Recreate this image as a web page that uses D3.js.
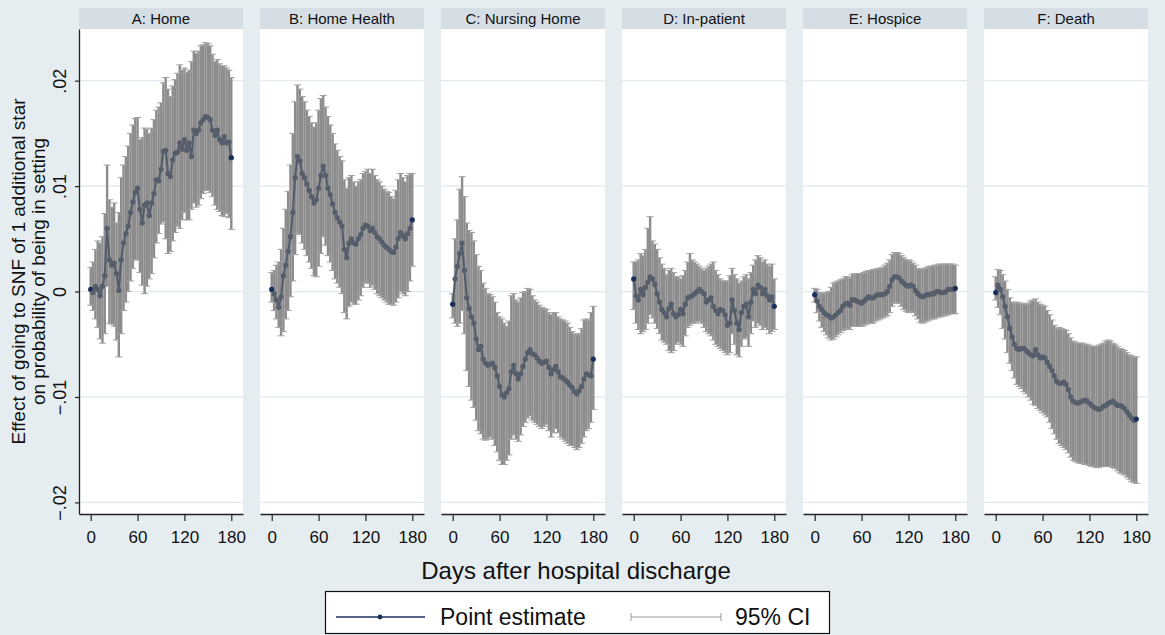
<!DOCTYPE html>
<html>
<head>
<meta charset="utf-8">
<script src="https://cdn.jsdelivr.net/npm/d3@7"></script>
<style>
  body { margin: 0; background: #e7eef1; }
  svg { display: block; font-family: "Liberation Sans", Arial, sans-serif; }
</style>
</head>
<body>
<div id="chart"></div>
<script>
// panel titles and shared x values (days after discharge)
const panelTitles = ["A: Home", "B: Home Health", "C: Nursing Home", "D: In-patient", "E: Hospice", "F: Death"];
const days = [0, 3, 6, 9, 12, 15, 18, 21, 24, 27, 30, 33, 36, 39, 42, 45, 48, 51, 54, 57, 60,
  63, 66, 69, 72, 75, 78, 81, 84, 87, 90, 93, 96, 99, 102, 105, 108, 111, 114, 117, 120,
  123, 126, 129, 132, 135, 138, 141, 144, 147, 150, 153, 156, 159, 162, 165, 168, 171, 174, 177, 180];
const xTicks = [0, 60, 120, 180];
const yTicks = [-0.02, -0.01, 0, 0.01, 0.02];

// A: Home
const homeEst = [0.0002, -0.0001, 0.0005, 0.0002, -0.0004, 0.0005, 0.0015, 0.0060, 0.0030, 0.0025,
  0.0027, 0.0017, 0.0001, 0.0030, 0.0046, 0.0055, 0.0062, 0.0075, 0.0085, 0.0094,
  0.0098, 0.0078, 0.0065, 0.0082, 0.0084, 0.0072, 0.0084, 0.0093, 0.0106, 0.0105,
  0.0116, 0.0133, 0.0134, 0.0112, 0.0109, 0.0125, 0.0131, 0.0132, 0.0141, 0.0135,
  0.0144, 0.0134, 0.0141, 0.0128, 0.0153, 0.0150, 0.0153, 0.0160, 0.0163, 0.0166,
  0.0165, 0.0163, 0.0153, 0.0148, 0.0153, 0.0144, 0.0141, 0.0147, 0.0141, 0.0142, 0.0127];
const homeHi = [0.0023, 0.0028, 0.0040, 0.0048, 0.0046, 0.0052, 0.0074, 0.0120, 0.0087, 0.0080,
  0.0084, 0.0065, 0.0075, 0.0108, 0.0120, 0.0128, 0.0138, 0.0150, 0.0158, 0.0164,
  0.0165, 0.0144, 0.0146, 0.0155, 0.0154, 0.0150, 0.0155, 0.0163, 0.0172, 0.0175,
  0.0179, 0.0198, 0.0203, 0.0192, 0.0185, 0.0195, 0.0201, 0.0207, 0.0215, 0.0210,
  0.0212, 0.0208, 0.0210, 0.0218, 0.0228, 0.0226, 0.0228, 0.0233, 0.0234, 0.0236,
  0.0235, 0.0233, 0.0225, 0.0218, 0.0220, 0.0216, 0.0214, 0.0214, 0.0212, 0.0210, 0.0203];
const homeLo = [-0.0013, -0.0018, -0.0026, -0.0034, -0.0045, -0.0049, -0.0040, 0.0005, -0.0030, -0.0031,
  -0.0033, -0.0046, -0.0062, -0.0040, -0.0018, -0.0010, 0.0000, 0.0010, 0.0022, 0.0030,
  0.0030, 0.0018, 0.0006, -0.0002, 0.0005, 0.0012, 0.0017, 0.0032, 0.0046, 0.0055,
  0.0064, 0.0066, 0.0050, 0.0036, 0.0038, 0.0048, 0.0056, 0.0062, 0.0060, 0.0068,
  0.0075, 0.0068, 0.0068, 0.0078, 0.0084, 0.0080, 0.0082, 0.0088, 0.0093, 0.0096,
  0.0096, 0.0094, 0.0090, 0.0082, 0.0078, 0.0076, 0.0072, 0.0071, 0.0074, 0.0070, 0.0059];

// B: Home Health
const hhEst = [0.0002, -0.0002, -0.0008, -0.0015, -0.0005, 0.0015, 0.0025, 0.0038, 0.0052, 0.0075,
  0.0108, 0.0128, 0.0124, 0.0112, 0.0108, 0.0102, 0.0096, 0.0090, 0.0084, 0.0087,
  0.0098, 0.0110, 0.0119, 0.0110, 0.0098, 0.0092, 0.0083, 0.0075, 0.0070, 0.0066,
  0.0062, 0.0040, 0.0032, 0.0046, 0.0050, 0.0046, 0.0045, 0.0050, 0.0054, 0.0060,
  0.0063, 0.0062, 0.0058, 0.0060, 0.0056, 0.0052, 0.0050, 0.0047, 0.0044, 0.0042,
  0.0040, 0.0038, 0.0037, 0.0042, 0.0050, 0.0056, 0.0053, 0.0050, 0.0055, 0.0060, 0.0068];
const hhHi = [0.0018, 0.0020, 0.0025, 0.0028, 0.0040, 0.0060, 0.0078, 0.0095, 0.0120, 0.0150,
  0.0180, 0.0196, 0.0192, 0.0185, 0.0180, 0.0172, 0.0166, 0.0160, 0.0156, 0.0160,
  0.0172, 0.0183, 0.0186, 0.0175, 0.0166, 0.0158, 0.0150, 0.0140, 0.0134, 0.0128,
  0.0124, 0.0106, 0.0098, 0.0108, 0.0110, 0.0104, 0.0100, 0.0104, 0.0106, 0.0112,
  0.0114, 0.0116, 0.0112, 0.0116, 0.0110, 0.0106, 0.0104, 0.0100, 0.0097, 0.0095,
  0.0094, 0.0090, 0.0088, 0.0096, 0.0106, 0.0112, 0.0108, 0.0104, 0.0110, 0.0112, 0.0112];
const hhLo = [-0.0010, -0.0018, -0.0026, -0.0034, -0.0042, -0.0038, -0.0026, -0.0018, -0.0005, 0.0010,
  0.0035, 0.0055, 0.0054, 0.0046, 0.0040, 0.0034, 0.0028, 0.0022, 0.0015, 0.0014,
  0.0024, 0.0036, 0.0052, 0.0044, 0.0034, 0.0028, 0.0020, 0.0012, 0.0008, 0.0004,
  -0.0002, -0.0020, -0.0026, -0.0014, -0.0010, -0.0012, -0.0012, -0.0008, -0.0004, 0.0004,
  0.0008, 0.0008, 0.0004, 0.0006, 0.0002, -0.0002, -0.0004, -0.0006, -0.0008, -0.0010,
  -0.0012, -0.0012, -0.0013, -0.0010, -0.0006, 0.0000, -0.0002, -0.0004, 0.0000, 0.0010, 0.0024];

// C: Nursing Home
const nhEst = [-0.0012, 0.0012, 0.0024, 0.0036, 0.0046, 0.0020, -0.0006, -0.0016, -0.0024, -0.0030,
  -0.0045, -0.0055, -0.0052, -0.0064, -0.0068, -0.0070, -0.0069, -0.0068, -0.0072, -0.0080,
  -0.0090, -0.0098, -0.0100, -0.0096, -0.0092, -0.0076, -0.0070, -0.0078, -0.0083, -0.0078,
  -0.0071, -0.0064, -0.0058, -0.0055, -0.0059, -0.0060, -0.0063, -0.0066, -0.0068, -0.0067,
  -0.0066, -0.0072, -0.0078, -0.0074, -0.0071, -0.0076, -0.0081, -0.0082, -0.0084, -0.0086,
  -0.0089, -0.0091, -0.0095, -0.0097, -0.0094, -0.0090, -0.0083, -0.0078, -0.0079, -0.0080, -0.0064];
const nhHi = [-0.0002, 0.0050, 0.0068, 0.0097, 0.0109, 0.0090, 0.0065, 0.0058, 0.0056, 0.0048,
  0.0035, 0.0024, 0.0020, 0.0008, 0.0003, -0.0002, -0.0003, -0.0005, -0.0010, -0.0020,
  -0.0024, -0.0026, -0.0030, -0.0033, -0.0028, -0.0004, -0.0002, -0.0008, -0.0010, -0.0006,
  -0.0001, 0.0000, 0.0003, 0.0002, -0.0004, -0.0008, -0.0010, -0.0013, -0.0015, -0.0016,
  -0.0017, -0.0020, -0.0022, -0.0020, -0.0020, -0.0024, -0.0026, -0.0027, -0.0028, -0.0030,
  -0.0034, -0.0038, -0.0040, -0.0041, -0.0040, -0.0035, -0.0027, -0.0026, -0.0027, -0.0020, -0.0014];
const nhLo = [-0.0025, -0.0030, -0.0033, -0.0030, -0.0018, -0.0040, -0.0075, -0.0090, -0.0103, -0.0110,
  -0.0122, -0.0132, -0.0135, -0.0140, -0.0141, -0.0140, -0.0138, -0.0140, -0.0146, -0.0152,
  -0.0160, -0.0164, -0.0164, -0.0160, -0.0155, -0.0140, -0.0136, -0.0140, -0.0142, -0.0136,
  -0.0128, -0.0124, -0.0120, -0.0118, -0.0122, -0.0124, -0.0126, -0.0128, -0.0130, -0.0128,
  -0.0126, -0.0132, -0.0138, -0.0134, -0.0130, -0.0134, -0.0138, -0.0140, -0.0142, -0.0144,
  -0.0146, -0.0146, -0.0148, -0.0150, -0.0148, -0.0144, -0.0138, -0.0132, -0.0130, -0.0124, -0.0112];

// D: In-patient
const ipEst = [0.0012, -0.0004, -0.0008, 0.0002, -0.0003, 0.0004, 0.0009, 0.0014, 0.0012, 0.0007,
  -0.0002, -0.0010, -0.0017, -0.0020, -0.0024, -0.0016, -0.0012, -0.0021, -0.0024, -0.0022,
  -0.0017, -0.0021, -0.0012, -0.0006, -0.0005, -0.0004, -0.0002, 0.0000, 0.0002, 0.0000,
  -0.0002, -0.0010, -0.0008, -0.0006, -0.0014, -0.0018, -0.0021, -0.0017, -0.0018, -0.0022,
  -0.0032, -0.0030, -0.0008, -0.0018, -0.0030, -0.0036, -0.0020, -0.0014, -0.0012, -0.0024,
  -0.0010, 0.0002, -0.0002, 0.0006, 0.0004, -0.0002, 0.0002, -0.0004, -0.0008, -0.0005, -0.0014];
const ipHi = [0.0028, 0.0028, 0.0030, 0.0036, 0.0034, 0.0040, 0.0060, 0.0071, 0.0048, 0.0045,
  0.0040, 0.0032, 0.0026, 0.0022, 0.0016, 0.0020, 0.0022, 0.0018, 0.0014, 0.0014,
  0.0012, 0.0015, 0.0020, 0.0028, 0.0036, 0.0030, 0.0028, 0.0026, 0.0024, 0.0022,
  0.0020, 0.0022, 0.0024, 0.0026, 0.0028, 0.0020, 0.0016, 0.0012, 0.0010, 0.0010,
  0.0010, 0.0015, 0.0022, 0.0016, 0.0012, 0.0008, 0.0010, 0.0014, 0.0016, 0.0012,
  0.0018, 0.0025, 0.0030, 0.0034, 0.0032, 0.0028, 0.0030, 0.0026, 0.0024, 0.0026, 0.0012];
const ipLo = [-0.0017, -0.0030, -0.0036, -0.0040, -0.0038, -0.0036, -0.0030, -0.0022, -0.0025, -0.0030,
  -0.0035, -0.0040, -0.0046, -0.0048, -0.0050, -0.0056, -0.0058, -0.0056, -0.0050, -0.0048,
  -0.0050, -0.0052, -0.0042, -0.0034, -0.0032, -0.0030, -0.0030, -0.0029, -0.0028, -0.0030,
  -0.0034, -0.0038, -0.0040, -0.0042, -0.0046, -0.0050, -0.0052, -0.0054, -0.0056, -0.0058,
  -0.0060, -0.0058, -0.0040, -0.0050, -0.0060, -0.0062, -0.0052, -0.0045, -0.0044, -0.0052,
  -0.0040, -0.0028, -0.0034, -0.0030, -0.0032, -0.0036, -0.0034, -0.0036, -0.0040, -0.0038, -0.0036];

// E: Hospice
const hospEst = [-0.0003, -0.0009, -0.0014, -0.0017, -0.0020, -0.0022, -0.0023, -0.0025, -0.0024, -0.0022,
  -0.0020, -0.0018, -0.0014, -0.0012, -0.0011, -0.0013, -0.0008, -0.0008, -0.0009, -0.0010,
  -0.0011, -0.0009, -0.0007, -0.0005, -0.0006, -0.0006, -0.0004, -0.0003, -0.0003, -0.0003,
  -0.0002, 0.0000, 0.0005, 0.0011, 0.0014, 0.0014, 0.0013, 0.0010, 0.0008, 0.0006,
  0.0005, 0.0006, 0.0005, 0.0001, -0.0002, -0.0004, -0.0005, -0.0004, -0.0003, -0.0003,
  -0.0002, -0.0002, 0.0000, 0.0000, -0.0001, -0.0001, 0.0000, 0.0002, 0.0002, 0.0002, 0.0003];
const hospHi = [0.0003, 0.0002, -0.0001, -0.0002, -0.0002, -0.0001, 0.0000, 0.0004, 0.0008, 0.0009,
  0.0010, 0.0011, 0.0012, 0.0014, 0.0014, 0.0013, 0.0016, 0.0017, 0.0017, 0.0017,
  0.0017, 0.0018, 0.0019, 0.0020, 0.0020, 0.0021, 0.0021, 0.0022, 0.0022, 0.0023,
  0.0025, 0.0027, 0.0030, 0.0035, 0.0037, 0.0037, 0.0036, 0.0034, 0.0032, 0.0030,
  0.0030, 0.0029, 0.0027, 0.0025, 0.0022, 0.0021, 0.0021, 0.0022, 0.0023, 0.0024,
  0.0024, 0.0025, 0.0025, 0.0026, 0.0026, 0.0026, 0.0026, 0.0026, 0.0026, 0.0026, 0.0025];
const hospLo = [-0.0010, -0.0020, -0.0028, -0.0034, -0.0038, -0.0041, -0.0044, -0.0046, -0.0045, -0.0043,
  -0.0041, -0.0039, -0.0037, -0.0036, -0.0035, -0.0036, -0.0033, -0.0033, -0.0033, -0.0033,
  -0.0033, -0.0032, -0.0031, -0.0030, -0.0030, -0.0030, -0.0028, -0.0027, -0.0026, -0.0025,
  -0.0024, -0.0023, -0.0020, -0.0014, -0.0011, -0.0011, -0.0011, -0.0014, -0.0017, -0.0019,
  -0.0020, -0.0019, -0.0020, -0.0023, -0.0026, -0.0029, -0.0030, -0.0029, -0.0028, -0.0027,
  -0.0026, -0.0026, -0.0025, -0.0024, -0.0024, -0.0023, -0.0023, -0.0022, -0.0021, -0.0021, -0.0021];

// F: Death
const deathEst = [-0.0001, 0.0006, 0.0002, -0.0005, -0.0014, -0.0024, -0.0035, -0.0043, -0.0050, -0.0054,
  -0.0055, -0.0054, -0.0054, -0.0056, -0.0058, -0.0060, -0.0061, -0.0055, -0.0060, -0.0063,
  -0.0062, -0.0063, -0.0067, -0.0071, -0.0075, -0.0080, -0.0085, -0.0087, -0.0087, -0.0086,
  -0.0088, -0.0093, -0.0100, -0.0104, -0.0105, -0.0106, -0.0105, -0.0104, -0.0103, -0.0104,
  -0.0106, -0.0108, -0.0110, -0.0111, -0.0112, -0.0111, -0.0109, -0.0108, -0.0106, -0.0105,
  -0.0104, -0.0106, -0.0108, -0.0108, -0.0109, -0.0111, -0.0114, -0.0117, -0.0120, -0.0122, -0.0121];
const deathHi = [0.0014, 0.0021, 0.0020, 0.0016, 0.0010, 0.0002, -0.0006, -0.0010, -0.0011, -0.0010,
  -0.0011, -0.0011, -0.0012, -0.0012, -0.0011, -0.0009, -0.0008, -0.0007, -0.0010, -0.0012,
  -0.0013, -0.0014, -0.0018, -0.0022, -0.0027, -0.0032, -0.0035, -0.0034, -0.0035, -0.0036,
  -0.0037, -0.0040, -0.0044, -0.0047, -0.0048, -0.0049, -0.0049, -0.0049, -0.0050, -0.0050,
  -0.0051, -0.0052, -0.0052, -0.0052, -0.0051, -0.0050, -0.0049, -0.0047, -0.0046, -0.0047,
  -0.0049, -0.0050, -0.0052, -0.0054, -0.0055, -0.0056, -0.0058, -0.0060, -0.0061, -0.0062, -0.0062];
const deathLo = [-0.0008, -0.0015, -0.0022, -0.0035, -0.0045, -0.0058, -0.0068, -0.0075, -0.0082, -0.0088,
  -0.0090, -0.0092, -0.0095, -0.0097, -0.0100, -0.0103, -0.0107, -0.0108, -0.0111, -0.0113,
  -0.0115, -0.0117, -0.0119, -0.0124, -0.0130, -0.0135, -0.0140, -0.0144, -0.0146, -0.0148,
  -0.0150, -0.0153, -0.0157, -0.0160, -0.0161, -0.0162, -0.0163, -0.0163, -0.0164, -0.0164,
  -0.0165, -0.0166, -0.0166, -0.0167, -0.0167, -0.0166, -0.0166, -0.0166, -0.0166, -0.0166,
  -0.0167, -0.0168, -0.0170, -0.0172, -0.0173, -0.0174, -0.0176, -0.0178, -0.0180, -0.0181, -0.0182];

const panels = [
  { title: panelTitles[0], est: homeEst, lo: homeLo, hi: homeHi },
  { title: panelTitles[1], est: hhEst, lo: hhLo, hi: hhHi },
  { title: panelTitles[2], est: nhEst, lo: nhLo, hi: nhHi },
  { title: panelTitles[3], est: ipEst, lo: ipLo, hi: ipHi },
  { title: panelTitles[4], est: hospEst, lo: hospLo, hi: hospHi },
  { title: panelTitles[5], est: deathEst, lo: deathLo, hi: deathHi }
];

function drawChart() {
  const width = 1165;
  const height = 635;
  const plotTop = 29, plotBottom = 514, headTop = 8;

  const svg = d3.select("#chart")
    .append("svg")
    .attr("width", width)
    .attr("height", height);

  svg.append("rect")
    .attr("width", width)
    .attr("height", height)
    .attr("fill", "#e6edf0");

  const panelX = d3.scaleBand()
    .domain(panelTitles)
    .range([79, 1148])
    .paddingInner(17 / 181)
    .paddingOuter(0);
  const pw = panelX.bandwidth();

  const x = d3.scaleLinear().domain([-15, 195]).range([0, pw]);
  const y = d3.scaleLinear().domain([-0.0211, 0.0249]).range([plotBottom, plotTop]);

  panels.forEach((p, i) => {
    const g = svg.append("g")
      .attr("transform", `translate(${panelX(p.title)},0)`);

    // header strip
    g.append("rect")
      .attr("x", 0).attr("y", headTop)
      .attr("width", pw).attr("height", plotTop - headTop)
      .attr("fill", "#d5dee5");
    g.append("text")
      .attr("x", pw / 2).attr("y", (headTop + plotTop) / 2)
      .attr("dy", "0.36em")
      .attr("text-anchor", "middle")
      .attr("font-size", 15)
      .attr("fill", "#111")
      .text(p.title);

    // plot area
    g.append("rect")
      .attr("x", 0).attr("y", plotTop)
      .attr("width", pw).attr("height", plotBottom - plotTop)
      .attr("fill", "#fff");

    // gridlines
    g.append("g")
      .selectAll("line")
      .data(yTicks)
      .join("line")
      .attr("x1", 0).attr("x2", pw)
      .attr("y1", (d) => y(d)).attr("y2", (d) => y(d))
      .attr("stroke", "#e1eaef")
      .attr("stroke-width", 1.2);

    const rows = days.map((d, j) => ({ day: d, est: p.est[j], lo: p.lo[j], hi: p.hi[j] }));

    // 95% CI bars
    const ci = g.append("g");
    ci.selectAll("line.bar")
      .data(rows)
      .join("line")
      .attr("class", "bar")
      .attr("x1", (d) => x(d.day)).attr("x2", (d) => x(d.day))
      .attr("y1", (d) => y(d.lo)).attr("y2", (d) => y(d.hi))
      .attr("stroke", "#8c8c8c")
      .attr("stroke-width", 2.4);
    ["lo", "hi"].forEach((k) => {
      ci.selectAll("line.cap" + k)
        .data(rows)
        .join("line")
        .attr("class", "cap" + k)
        .attr("x1", (d) => x(d.day) - 3.5).attr("x2", (d) => x(d.day) + 3.5)
        .attr("y1", (d) => y(d[k])).attr("y2", (d) => y(d[k]))
        .attr("stroke", "#a0a0a0")
        .attr("stroke-width", 1);
    });

    // point estimate
    const line = d3.line().x((d) => x(d.day)).y((d) => y(d.est));
    g.append("path")
      .datum(rows)
      .attr("d", line)
      .attr("fill", "none")
      .attr("stroke", "#535c6b")
      .attr("stroke-width", 2);
    g.append("g")
      .selectAll("circle")
      .data(rows)
      .join("circle")
      .attr("cx", (d) => x(d.day))
      .attr("cy", (d) => y(d.est))
      .attr("r", 2.6)
      .attr("fill", (d, j) => (j === 0 || j === rows.length - 1) ? "#1c2f5c" : "#565e6c");

    // x axis
    const xAxis = g.append("g")
      .attr("transform", `translate(0,${plotBottom})`)
      .call(d3.axisBottom(x).tickValues(xTicks).tickSize(7).tickSizeOuter(0).tickPadding(10));
    xAxis.select(".domain").attr("stroke", "#222").attr("stroke-width", 1.3);
    xAxis.selectAll(".tick line").attr("stroke", "#222").attr("stroke-width", 1.2);
    xAxis.selectAll("text").attr("font-size", 17).attr("fill", "#111")
      .attr("font-family", "Liberation Sans, Arial, sans-serif");

    // y axis on first panel only
    if (i === 0) {
      const yAxis = g.append("g")
        .call(d3.axisLeft(y).tickValues(yTicks).tickSize(4).tickSizeOuter(0)
          .tickFormat((d) => d === 0 ? "0" : d3.format(".2f")(d).replace("0.", ".")));
      yAxis.select(".domain").attr("stroke", "#222").attr("stroke-width", 1.3);
      yAxis.selectAll(".tick line").attr("stroke", "#222").attr("stroke-width", 1.2);
      yAxis.selectAll("text")
        .attr("font-size", 18).attr("fill", "#111")
        .attr("font-family", "Liberation Sans, Arial, sans-serif")
        .attr("text-anchor", "middle")
        .attr("x", 0).attr("y", -13).attr("dy", 0)
        .attr("transform", "rotate(-90)");
    }
  });

  // y axis title
  const yMid = (plotTop + plotBottom) / 2;
  [["Effect of going to SNF of 1 additional star", 18], ["on probability of being in setting", 38]]
    .forEach(([t, cx]) => {
      svg.append("text")
        .attr("transform", `translate(${cx},${yMid}) rotate(-90)`)
        .attr("dy", "0.35em")
        .attr("text-anchor", "middle")
        .attr("font-size", 19)
        .attr("fill", "#111")
        .text(t);
    });

  // x axis title
  svg.append("text")
    .attr("x", 576).attr("y", 571)
    .attr("dy", "0.35em")
    .attr("text-anchor", "middle")
    .attr("font-size", 24)
    .attr("fill", "#111")
    .text("Days after hospital discharge");

  // legend
  const lg = svg.append("g");
  lg.append("rect")
    .attr("x", 325.5).attr("y", 591.5)
    .attr("width", 504).attr("height", 42)
    .attr("fill", "#fff")
    .attr("stroke", "#111")
    .attr("stroke-width", 1.2);
  const ly = 617;
  lg.append("line")
    .attr("x1", 336).attr("x2", 425).attr("y1", ly).attr("y2", ly)
    .attr("stroke", "#1c2f5c").attr("stroke-width", 1.6);
  lg.append("circle").attr("cx", 380).attr("cy", ly).attr("r", 2.4).attr("fill", "#1c2f5c");
  lg.append("text")
    .attr("x", 440).attr("y", ly).attr("dy", "0.35em")
    .attr("font-size", 23).attr("fill", "#111")
    .text("Point estimate");
  lg.append("line")
    .attr("x1", 631).attr("x2", 721).attr("y1", ly).attr("y2", ly)
    .attr("stroke", "#9a9a9a").attr("stroke-width", 1);
  [631, 721].forEach((cx) => {
    lg.append("line")
      .attr("x1", cx).attr("x2", cx).attr("y1", ly - 4).attr("y2", ly + 4)
      .attr("stroke", "#9a9a9a").attr("stroke-width", 1);
  });
  lg.append("text")
    .attr("x", 735).attr("y", ly).attr("dy", "0.35em")
    .attr("font-size", 23).attr("fill", "#111")
    .text("95% CI");
}

document.addEventListener("DOMContentLoaded", drawChart);
</script>
</body>
</html>
